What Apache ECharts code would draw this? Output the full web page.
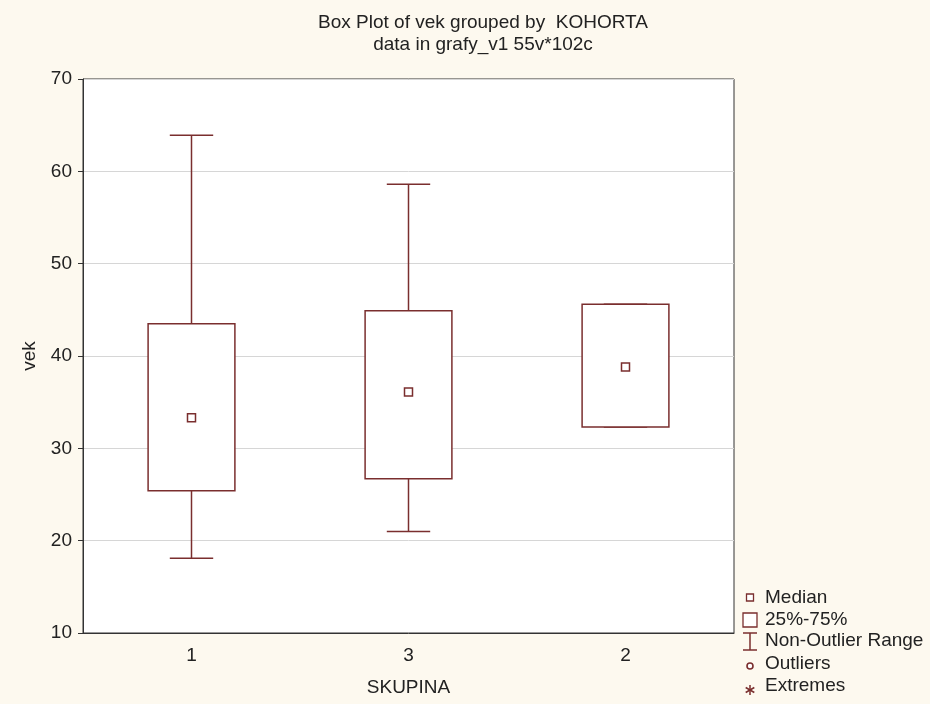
<!DOCTYPE html>
<html><head><meta charset="utf-8">
<script src="https://cdn.jsdelivr.net/npm/echarts@6/dist/echarts.min.js"></script>
<style>html,body{margin:0;padding:0;background:#fdf9ef}#c{width:930px;height:704px}</style>
</head><body><div id="c"></div>
<script>
const categories = ['1', '3', '2'];
const whiskerLow = [18.1, 21.0, 32.3];
const quartile1 = [25.4, 26.7, 32.3];
const medians = [33.3, 36.1, 38.8];
const quartile3 = [43.5, 44.9, 45.6];
const whiskerHigh = [63.9, 58.6, 45.6];
const legendLabels = ['Median', '25%-75%', 'Non-Outlier Range', 'Outliers', 'Extremes'];
const titleLines = ['Box Plot of vek grouped by  KOHORTA', 'data in grafy_v1 55v*102c'];

const STROKE = '#7a2e2e';
const FONT = 'Liberation Sans, Arial, sans-serif';
const boxData = categories.map((c, i) => [i, whiskerLow[i], quartile1[i], medians[i], quartile3[i], whiskerHigh[i]]);

function renderBox(params, api) {
  const x = api.value(0);
  const band = api.size([1, 0])[0];
  const hw = band * 0.2, cw = band * 0.1;
  const pLow = api.coord([x, api.value(1)]);
  const pQ1 = api.coord([x, api.value(2)]);
  const pMed = api.coord([x, api.value(3)]);
  const pQ3 = api.coord([x, api.value(4)]);
  const pHigh = api.coord([x, api.value(5)]);
  const cx = pMed[0];
  const ls = { stroke: STROKE, lineWidth: 1.5, fill: null };
  return {
    type: 'group',
    children: [
      { type: 'line', shape: { x1: cx, y1: pQ3[1], x2: cx, y2: pHigh[1] }, style: ls },
      { type: 'line', shape: { x1: cx - cw, y1: pHigh[1], x2: cx + cw, y2: pHigh[1] }, style: ls },
      { type: 'line', shape: { x1: cx, y1: pQ1[1], x2: cx, y2: pLow[1] }, style: ls },
      { type: 'line', shape: { x1: cx - cw, y1: pLow[1], x2: cx + cw, y2: pLow[1] }, style: ls },
      { type: 'rect', shape: { x: cx - hw, y: pQ3[1], width: hw * 2, height: pQ1[1] - pQ3[1] }, style: { stroke: STROKE, lineWidth: 1.5, fill: '#ffffff' } },
      { type: 'rect', shape: { x: cx - 4, y: pMed[1] - 4, width: 8, height: 8 }, style: { stroke: STROKE, lineWidth: 1.5, fill: '#ffffff' } }
    ]
  };
}

const LX = 765;
const IX = 750;
const rows = [597.5, 620, 641, 664, 686];
const ls2 = { stroke: STROKE, lineWidth: 1.5 };
const legendGraphics = [
  { type: 'rect', shape: { x: IX - 3.5, y: rows[0] - 3.5, width: 7, height: 7 }, style: { stroke: STROKE, lineWidth: 1.3, fill: '#fff' } },
  { type: 'rect', shape: { x: IX - 7, y: rows[1] - 7, width: 14, height: 14 }, style: { stroke: STROKE, lineWidth: 1.3, fill: '#fff' } },
  { type: 'line', shape: { x1: IX - 7, y1: rows[2] - 8, x2: IX + 7, y2: rows[2] - 8 }, style: ls2 },
  { type: 'line', shape: { x1: IX, y1: rows[2] - 8, x2: IX, y2: rows[2] + 9 }, style: ls2 },
  { type: 'line', shape: { x1: IX - 7, y1: rows[2] + 9, x2: IX + 7, y2: rows[2] + 9 }, style: ls2 },
  { type: 'circle', shape: { cx: IX, cy: rows[3] + 2, r: 3 }, style: { stroke: STROKE, lineWidth: 1.6, fill: '#fff' } },
  { type: 'line', shape: { x1: IX, y1: rows[4] - 1, x2: IX, y2: rows[4] + 9 }, style: ls2 },
  { type: 'line', shape: { x1: IX - 4.3, y1: rows[4] + 1.5, x2: IX + 4.3, y2: rows[4] + 6.5 }, style: ls2 },
  { type: 'line', shape: { x1: IX - 4.3, y1: rows[4] + 6.5, x2: IX + 4.3, y2: rows[4] + 1.5 }, style: ls2 }
];
legendLabels.forEach((t, i) => {
  legendGraphics.push({ type: 'text', x: LX, y: rows[i], style: { text: t, font: '19px ' + FONT, fill: '#222', align: 'left', verticalAlign: 'middle' } });
});

const chart = echarts.init(document.getElementById('c'), null, { renderer: 'canvas' });
chart.setOption({
  backgroundColor: '#fdf9ef',
  animation: false,
  title: {
    text: titleLines.join('\n'), left: 478, top: 7, textAlign: 'center',
    textStyle: { fontSize: 19, fontWeight: 'normal', color: '#222', fontFamily: FONT, lineHeight: 22 }
  },
  grid: { left: 83, top: 79, width: 651, height: 554, show: true, backgroundColor: '#ffffff', borderColor: '#333', borderWidth: 1 },
  xAxis: {
    type: 'category', data: categories, boundaryGap: true,
    name: 'SKUPINA', nameLocation: 'middle', nameGap: 45,
    nameTextStyle: { fontSize: 19, color: '#222', fontFamily: FONT },
    axisLine: { lineStyle: { color: '#333', width: 1 } },
    axisTick: { inside: true, length: 5, alignWithLabel: true, lineStyle: { color: '#333' } },
    axisLabel: { fontSize: 19, color: '#222', fontFamily: FONT, margin: 13 },
    splitLine: { show: false }
  },
  yAxis: {
    type: 'value', min: 10, max: 70, interval: 10,
    name: 'vek', nameLocation: 'middle', nameGap: 44, nameRotate: 90,
    nameTextStyle: { fontSize: 19, color: '#222', fontFamily: FONT },
    axisLine: { show: true, lineStyle: { color: '#333', width: 1 } },
    axisTick: { show: true, inside: false, length: 5, lineStyle: { color: '#333' } },
    axisLabel: { fontSize: 19, color: '#222', fontFamily: FONT, margin: 11 },
    splitLine: { show: true, lineStyle: { color: '#d6d6d6', width: 1 } }
  },
  series: [{
    type: 'custom', name: 'box', renderItem: renderBox, data: boxData,
    encode: { x: 0, y: [1, 2, 3, 4, 5] }, clip: false, z: 3
  }],
  graphic: legendGraphics
});
</script></body></html>
